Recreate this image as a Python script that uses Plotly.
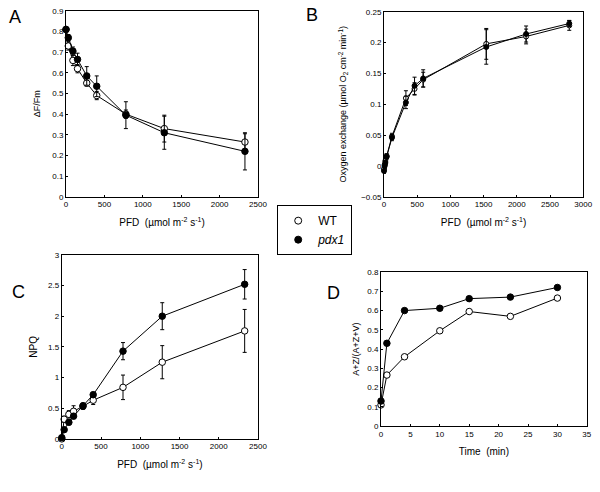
import plotly.graph_objects as go

# panel A / C light levels (PFD)
pfd_ac = [0, 30, 90, 150, 270, 400, 780, 1280, 2330]

# A: deltaF/Fm
a_wt = [0.81, 0.73, 0.66, 0.62, 0.55, 0.49, 0.40, 0.33, 0.265]
a_wt_err = [0.01, 0.02, 0.025, 0.02, 0.015, 0.02, 0.02, 0.065, 0.04]
a_pdx = [0.81, 0.77, 0.705, 0.665, 0.585, 0.535, 0.395, 0.31, 0.22]
a_pdx_err = [0.01, 0.015, 0.02, 0.03, 0.045, 0.05, 0.065, 0.08, 0.09]

# B: oxygen exchange
pfd_b = [0, 10, 20, 40, 120, 330, 460, 590, 1540, 2140, 2790]
b_wt = [-0.005, 0.002, 0.008, 0.016, 0.048, 0.110, 0.125, 0.140, 0.198, 0.210, 0.228]
b_wt_err = [0.004, 0.004, 0.004, 0.004, 0.005, 0.012, 0.010, 0.012, 0.025, 0.012, 0.008]
b_pdx = [-0.008, 0.000, 0.005, 0.015, 0.046, 0.103, 0.130, 0.142, 0.193, 0.214, 0.231]
b_pdx_err = [0.004, 0.004, 0.004, 0.004, 0.005, 0.010, 0.014, 0.014, 0.028, 0.013, 0.005]

# C: NPQ
c_wt = [0.0, 0.32, 0.40, 0.45, 0.53, 0.63, 0.84, 1.25, 1.76]
c_wt_err = [0.02, 0.05, 0.06, 0.09, 0.05, 0.07, 0.20, 0.27, 0.35]
c_pdx = [0.02, 0.15, 0.27, 0.37, 0.54, 0.72, 1.43, 2.00, 2.52]
c_pdx_err = [0.01, 0.03, 0.04, 0.04, 0.04, 0.04, 0.14, 0.22, 0.24]

# D: de-epoxidation state over time
time_d = [0, 1, 4, 10, 15, 22, 30]
d_wt = [0.11, 0.265, 0.36, 0.495, 0.595, 0.57, 0.665]
d_pdx = [0.13, 0.43, 0.60, 0.612, 0.662, 0.67, 0.72]

fig = go.Figure()


def add_pair(x, y_wt, y_pdx, xa, ya, err_wt=None, err_pdx=None, msize=7):
    for y, err, fill in [(y_wt, err_wt, 'white'), (y_pdx, err_pdx, 'black')]:
        fig.add_trace(go.Scatter(
            x=x, y=y, xaxis=xa, yaxis=ya,
            mode='lines+markers',
            line=dict(color='black', width=1),
            marker=dict(size=msize, color=fill, line=dict(color='black', width=1)),
            error_y=dict(type='data', array=err, color='black', thickness=1, width=2,
                         visible=err is not None),
            showlegend=False, cliponaxis=False,
        ))


add_pair(pfd_ac, a_wt, a_pdx, 'x', 'y', a_wt_err, a_pdx_err, msize=6.5)
add_pair(pfd_b, b_wt, b_pdx, 'x2', 'y2', b_wt_err, b_pdx_err, msize=5)
add_pair(pfd_ac, c_wt, c_pdx, 'x3', 'y3', c_wt_err, c_pdx_err, msize=6.5)
add_pair(time_d, d_wt, d_pdx, 'x4', 'y4', msize=6.5)

# legend entries only
fig.add_trace(go.Scatter(x=[None], y=[None], mode='markers', name='WT',
                         marker=dict(size=7, color='white', line=dict(color='black', width=1))))
fig.add_trace(go.Scatter(x=[None], y=[None], mode='markers', name='<i>pdx1</i>',
                         marker=dict(size=7, color='black', line=dict(color='black', width=1))))

pfd_title = 'PFD  (µmol m<sup>-2</sup> s<sup>-1</sup>)'
ax_common = dict(showline=True, linecolor='black', linewidth=1, mirror=True,
                 ticks='inside', ticklen=2, tickcolor='black', showgrid=False,
                 zeroline=False, tickfont=dict(size=8, color='black'),
                 title_font=dict(size=9, color='black'))

fig.update_layout(
    width=600, height=492,
    margin=dict(l=0, r=0, t=0, b=0, autoexpand=False),
    paper_bgcolor='white', plot_bgcolor='white',
    font=dict(family='Liberation Sans, Arial, sans-serif', color='black'),
    xaxis=dict(ax_common, domain=[0.110, 0.430], range=[0, 2500], dtick=500,
               title=dict(text=pfd_title, standoff=10, font=dict(size=10))),
    yaxis=dict(ax_common, domain=[0.600, 0.978], range=[0, 0.9], dtick=0.1,
               tickformat='.1~f', title=dict(text='ΔF/Fm', standoff=10)),
    xaxis2=dict(ax_common, domain=[0.640, 0.972], range=[0, 3000], dtick=500,
                anchor='y2', title=dict(text=pfd_title, standoff=10, font=dict(size=10))),
    yaxis2=dict(ax_common, domain=[0.600, 0.976], range=[-0.05, 0.25], dtick=0.05,
                anchor='x2', tickformat='~g',
                title=dict(text='Oxygen exchange (µmol O<sub>2</sub> cm<sup>-2</sup> min<sup>-1</sup>)',
                           standoff=12)),
    xaxis3=dict(ax_common, domain=[0.103, 0.430], range=[0, 2500], dtick=500,
                anchor='y3', title=dict(text=pfd_title, standoff=10, font=dict(size=10))),
    yaxis3=dict(ax_common, domain=[0.108, 0.482], range=[0, 3], dtick=0.5,
                anchor='x3', tickformat='~g', title=dict(text='NPQ', standoff=8, font=dict(size=10))),
    xaxis4=dict(ax_common, domain=[0.635, 0.978], range=[0, 35], dtick=5,
                anchor='y4', title=dict(text='Time  (min)', standoff=10, font=dict(size=10))),
    yaxis4=dict(ax_common, domain=[0.134, 0.447], range=[0, 0.8], dtick=0.1,
                anchor='x4', tickformat='.1~f', title=dict(text='A+Z/(A+Z+V)', standoff=6)),
    legend=dict(x=0.462, y=0.583, xanchor='left', yanchor='top',
                bordercolor='black', borderwidth=1, bgcolor='white',
                font=dict(size=12, color='black'), itemwidth=30,
                tracegroupgap=0),
    showlegend=True,
)

for label, lx, ly in [('A', 0.025, 0.965), ('B', 0.52, 0.969),
                      ('C', 0.03, 0.406), ('D', 0.555, 0.404)]:
    fig.add_annotation(text=label, x=lx, y=ly, xref='paper', yref='paper',
                       showarrow=False, font=dict(size=18, color='black'),
                       xanchor='center', yanchor='middle')

# drop the browser's default 8px body margin so the figure sits at the page corner
fig.write_html("out.html", config={'displayModeBar': False},
               post_script="document.body.style.margin='0';")
